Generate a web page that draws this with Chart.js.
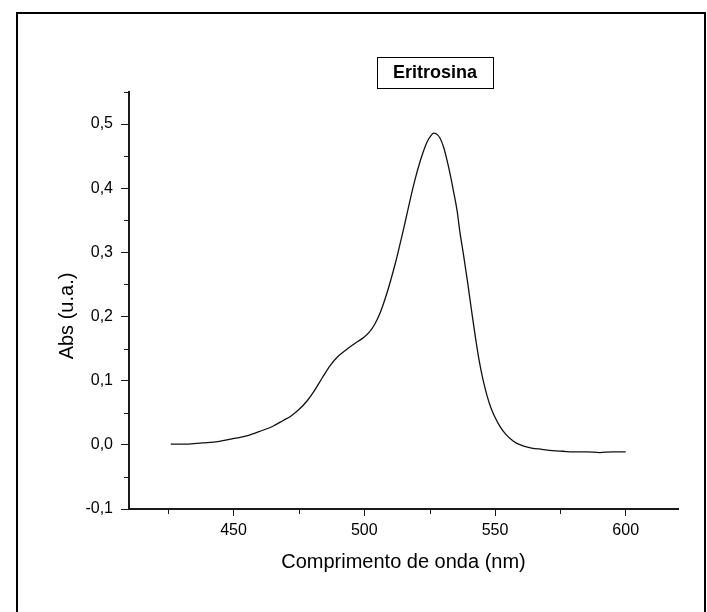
<!DOCTYPE html>
<html>
<head>
<meta charset="utf-8">
<script src="https://cdn.jsdelivr.net/npm/chart.js@4/dist/chart.umd.min.js"></script>
<style>
  html, body { margin: 0; padding: 0; background: #ffffff; }
  #wrap { position: relative; width: 707px; height: 612px; }
</style>
</head>
<body>
<div id="wrap"><canvas id="c" width="707" height="612"></canvas></div>
<script>
const chartTitle = "Eritrosina";
const xAxisTitle = "Comprimento de onda (nm)";
const yAxisTitle = "Abs (u.a.)";

const wavelength = [426, 432, 438, 444, 449, 455, 460, 465, 469, 472, 475, 478, 481, 484, 487, 490, 493, 495, 497.5, 500,
  502, 504, 506, 508, 510, 512, 513.5, 515, 516.5, 518, 519.5, 521, 522.5, 524, 525.5, 526.5, 527.5, 529, 530.5,
  531.5, 533, 534, 535.5, 536.5, 538, 539.5, 541, 542.5, 544, 545.5, 547, 548.5, 550, 552, 554, 556, 558, 561, 564,
  568, 572, 576, 580, 585, 590, 595, 600];
const absorbance = [0.001, 0.001, 0.003, 0.005, 0.009, 0.014, 0.021, 0.029, 0.038, 0.045, 0.055, 0.068, 0.085, 0.105, 0.124, 0.138, 0.148, 0.154, 0.161, 0.168,
  0.176, 0.188, 0.205, 0.228, 0.255, 0.285, 0.310, 0.336, 0.363, 0.390, 0.415, 0.437, 0.456, 0.472, 0.482, 0.486, 0.485, 0.478, 0.462,
  0.446, 0.419, 0.398, 0.365, 0.334, 0.295, 0.254, 0.210, 0.168, 0.130, 0.100, 0.076, 0.057, 0.043, 0.028, 0.017, 0.009, 0.003, -0.002, -0.005,
  -0.007, -0.009, -0.010, -0.011, -0.011, -0.012, -0.011, -0.011];

const xMajorTicks = [450, 500, 550, 600];
const xMinorTicks = [425, 475, 525, 575];
const yMajorTicks = [-0.1, 0.0, 0.1, 0.2, 0.3, 0.4, 0.5];
const yMinorTicks = [-0.05, 0.05, 0.15, 0.25, 0.35, 0.45, 0.55];
const xRange = [410, 620];
const yRange = [-0.1, 0.55];

const points = wavelength.map((w, i) => ({ x: w, y: absorbance[i] }));
const INK = '#1a1a1a';
const FONT = "'Liberation Sans', Arial, sans-serif";

const decorPlugin = {
  id: 'decor',
  beforeDraw(chart) {
    const ctx = chart.ctx;
    ctx.save();
    ctx.fillStyle = '#ffffff';
    ctx.fillRect(0, 0, chart.width, chart.height);
    ctx.restore();
  },
  afterDraw(chart) {
    const ctx = chart.ctx;
    const xs = chart.scales.x, ys = chart.scales.y;
    ctx.save();
    // outer frame
    ctx.strokeStyle = '#000';
    ctx.lineWidth = 2;
    ctx.strokeRect(17, 13, 688, 640);
    // minor ticks
    ctx.strokeStyle = INK;
    ctx.lineWidth = 1;
    ctx.beginPath();
    xMinorTicks.forEach(v => {
      const px = Math.round(xs.getPixelForValue(v)) + 0.5;
      ctx.moveTo(px, xs.top);
      ctx.lineTo(px, xs.top + 5);
    });
    yMinorTicks.forEach(v => {
      const py = Math.round(ys.getPixelForValue(v)) + 0.5;
      ctx.moveTo(ys.right, py);
      ctx.lineTo(ys.right - 5, py);
    });
    ctx.stroke();
    // y axis title
    ctx.fillStyle = '#000';
    ctx.font = "20px " + FONT;
    ctx.textAlign = 'center';
    ctx.textBaseline = 'middle';
    ctx.save();
    ctx.translate(67, 316);
    ctx.rotate(-Math.PI / 2);
    ctx.fillText(yAxisTitle, 0, 0);
    ctx.restore();
    // title box
    ctx.font = "bold 18px " + FONT;
    const cx = 435, cy = 72;
    ctx.fillText(chartTitle, cx, cy + 1);
    ctx.strokeStyle = '#000';
    ctx.lineWidth = 1;
    ctx.strokeRect(377.5, 57.5, 116, 31);
    ctx.restore();
  }
};

new Chart(document.getElementById('c'), {
  type: 'line',
  data: {
    datasets: [{
      data: points,
      borderColor: '#111',
      borderWidth: 1.3,
      pointRadius: 0,
      fill: false,
      cubicInterpolationMode: 'monotone'
    }]
  },
  options: {
    responsive: false,
    animation: false,
    layout: { padding: { left: 0, right: 29, top: 92, bottom: 0 } },
    plugins: { legend: { display: false }, tooltip: { enabled: false }, title: { display: false } },
    scales: {
      x: {
        type: 'linear',
        min: xRange[0], max: xRange[1],
        afterFit(s) { s.height = 103; },
        afterBuildTicks(s) { s.ticks = xMajorTicks.map(v => ({ value: v })); },
        border: { display: true, color: INK, width: 2 },
        grid: { drawOnChartArea: false, drawTicks: true, tickLength: 7, tickColor: INK, tickWidth: 1 },
        ticks: { color: '#000', font: { family: FONT, size: 16 }, padding: 5, maxRotation: 0,
                 callback: v => String(v) },
        title: { display: true, text: xAxisTitle, color: '#000', font: { family: FONT, size: 20 },
                 padding: { top: 0, bottom: 38 } }
      },
      y: {
        type: 'linear',
        min: yRange[0], max: yRange[1],
        afterFit(s) { s.width = 129; },
        afterBuildTicks(s) { s.ticks = yMajorTicks.map(v => ({ value: v })); },
        border: { display: true, color: INK, width: 2 },
        grid: { drawOnChartArea: false, drawTicks: true, tickLength: 8, tickColor: INK, tickWidth: 1 },
        ticks: { color: '#000', font: { family: FONT, size: 16 }, padding: 8,
                 callback: v => (Math.abs(v) < 1e-9 ? 0 : v).toFixed(1).replace('.', ',') },
        title: { display: false, text: yAxisTitle }
      }
    }
  },
  plugins: [decorPlugin]
});
</script>
</body>
</html>
